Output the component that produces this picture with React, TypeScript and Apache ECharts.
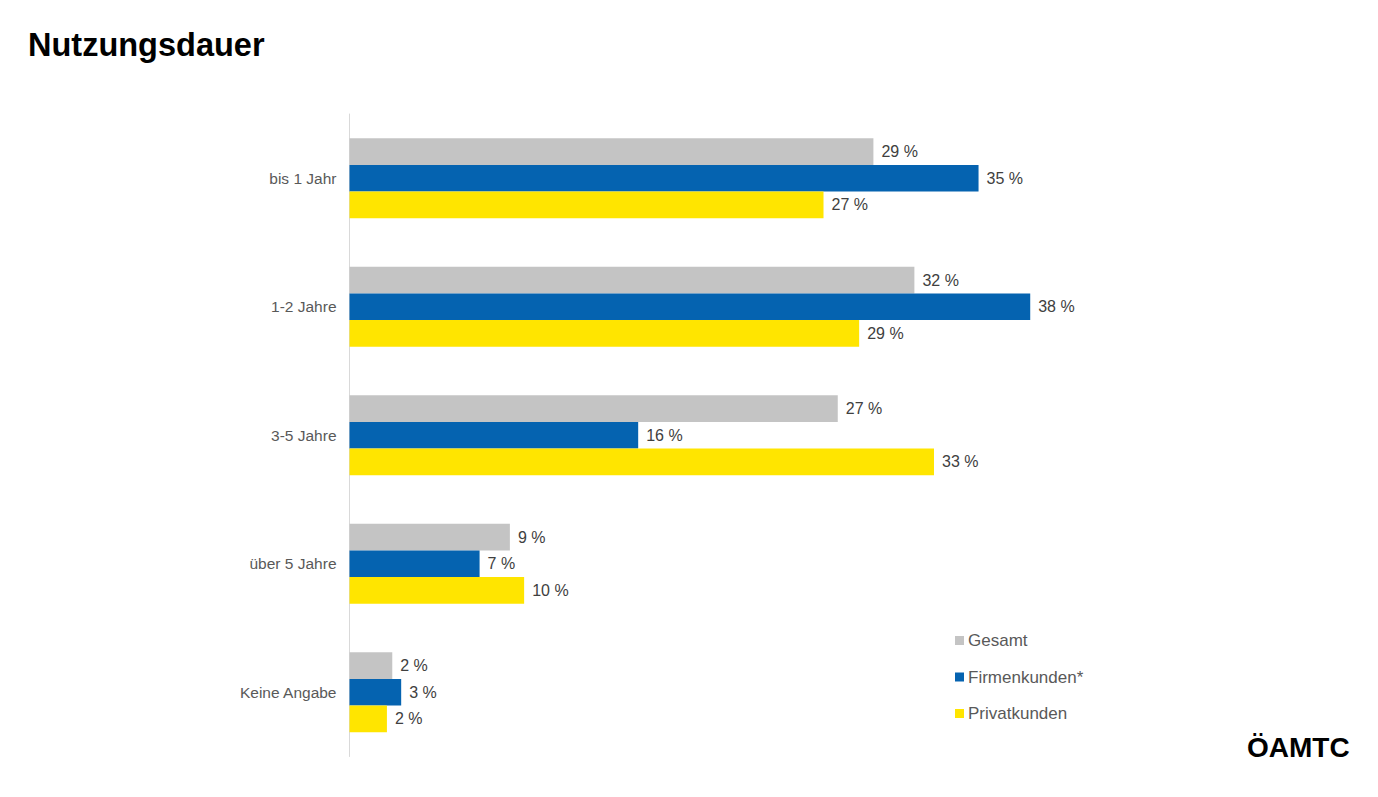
import React, { useEffect, useRef } from "react";
import * as echarts from "echarts";

const categories = ["bis 1 Jahr", "1-2 Jahre", "3-5 Jahre", "über 5 Jahre", "Keine Angabe"];
const seriesNames = ["Gesamt", "Firmenkunden*", "Privatkunden"];
const gesamt = [29.4, 31.7, 27.4, 9.0, 2.4];
const firmenkunden = [35.3, 38.2, 16.2, 7.3, 2.9];
const privatkunden = [26.6, 28.6, 32.8, 9.8, 2.1];
const colors = ["#C4C4C4", "#0563B0", "#FFE500"];

const FONT = "'Liberation Sans', Arial, sans-serif";

export default function App() {
  const ref = useRef<HTMLDivElement>(null);
  useEffect(() => {
    if (!ref.current) return;
    const chart = echarts.init(ref.current, null, { renderer: "svg" });
    const values = [gesamt, firmenkunden, privatkunden];
    chart.setOption({
      animation: false,
      backgroundColor: "#ffffff",
      textStyle: { fontFamily: FONT },
      grid: { left: 349.5, top: 114, bottom: 40.5, right: 315.7, containLabel: false },
      xAxis: {
        type: "value",
        min: 0,
        max: 40,
        show: false,
        splitLine: { show: false },
      },
      yAxis: {
        type: "category",
        data: categories,
        inverse: true,
        axisLine: { show: true, lineStyle: { color: "#D9D9D9", width: 1 } },
        axisTick: { show: false },
        axisLabel: { color: "#595959", fontSize: 15.5, margin: 13, fontFamily: FONT },
      },
      legend: {
        orient: "vertical",
        left: 950,
        top: 627,
        itemWidth: 9,
        itemHeight: 9,
        itemGap: 19.5,
        icon: "rect",
        textStyle: { color: "#595959", fontSize: 17, fontFamily: FONT, padding: [0, 0, 0, -1] },
        data: seriesNames,
      },
      series: seriesNames.map((name, i) => ({
        name,
        type: "bar",
        data: values[i],
        barWidth: 26.7,
        barGap: "0%",
        itemStyle: { color: colors[i] },
        label: {
          show: true,
          position: "right",
          distance: 8,
          color: "#404040",
          fontSize: 16,
          fontFamily: FONT,
          formatter: (p: any) => `${Math.round(p.value)} %`,
        },
      })),
      graphic: [
        {
          type: "text",
          left: 28,
          top: 28,
          style: {
            text: "Nutzungsdauer",
            fill: "#000000",
            font: `bold 32.5px ${FONT}`,
          },
        },
        {
          type: "text",
          left: 1247,
          top: 733,
          style: {
            text: "ÖAMTC",
            fill: "#000000",
            font: `900 28px ${FONT}`,
          },
        },
      ],
    });
    return () => chart.dispose();
  }, []);
  return <div ref={ref} style={{ width: 1378, height: 797, margin: -8 }} />;
}
